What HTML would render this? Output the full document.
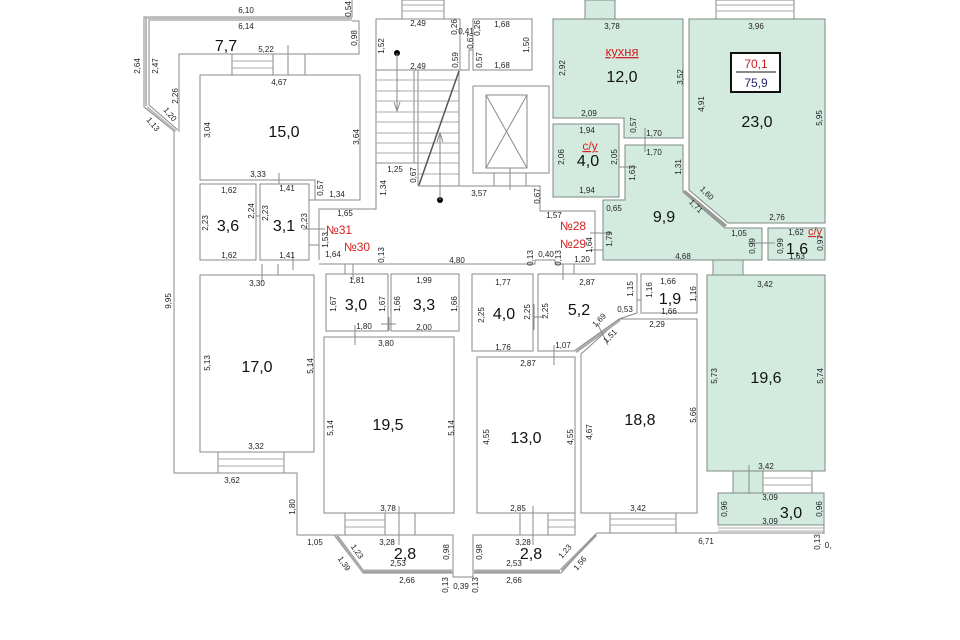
<!DOCTYPE html>
<html><head><meta charset="utf-8"><style>
html,body{margin:0;padding:0;background:#fff;}
svg{display:block;font-family:"Liberation Sans",sans-serif;}
.l{stroke:#8a8a8a;stroke-width:1;fill:none;}
.g{fill:#d3ebdf;stroke:#7d8a84;stroke-width:1;}
.w{fill:#fff;stroke:#8a8a8a;stroke-width:1;}
.t{font-size:8px;fill:#222;text-anchor:middle;font-family:"Liberation Sans Narrow","Liberation Sans",sans-serif;}
.a{font-size:16px;fill:#111;text-anchor:middle;font-family:"Liberation Sans Narrow","Liberation Sans",sans-serif;}
.r{font-size:12px;fill:#d42020;text-anchor:middle;}
.s{stroke:#aaa;stroke-width:1;}
</style></head><body>
<svg width="960" height="640" viewBox="0 0 960 640" xmlns="http://www.w3.org/2000/svg">
<polyline class="l" points="352,0 352,17 144,17 144,107 174,131 174,473 297,473 297,535 334,535"/>
<polyline class="l" points="352,20 149,20 149,105 178,130"/>
<line x1="145" y1="18" x2="352" y2="18" stroke="#bbb" stroke-width="2"/>
<line x1="146" y1="18" x2="146" y2="106" stroke="#bbb" stroke-width="2"/>
<line x1="147" y1="107" x2="176" y2="131" stroke="#bbb" stroke-width="2"/>
<polyline class="l" points="352,21 359,21 359,54 179,54 179,132"/>
<rect class="l" x="232" y="54" width="73" height="21"/>
<line class="s" x1="232" y1="61" x2="273" y2="61"/><line class="s" x1="232" y1="68" x2="273" y2="68"/>
<line class="l" x1="273" y1="54" x2="273" y2="75"/><line class="l" x1="288" y1="45" x2="288" y2="85"/>
<polygon class="w" points="200,75 360,75 360,200 315,200 315,180 200,180"/>
<line class="l" x1="279" y1="173" x2="279" y2="195"/>
<rect class="w" x="200" y="184" width="56" height="76"/>
<rect class="w" x="260" y="184" width="49" height="76"/>
<line class="l" x1="256" y1="216" x2="260" y2="216"/>
<line class="l" x1="293" y1="252" x2="293" y2="270"/>
<line class="l" x1="309" y1="200" x2="319" y2="200"/><line class="l" x1="309" y1="245" x2="319" y2="245"/>
<line class="l" x1="303" y1="229" x2="325" y2="229"/>
<polyline class="l" points="319,260 319,209 376,209 376,19 460,19 460,70 469,70 469,50 473,50"/>
<polyline class="l" points="418,186 540,186 540,211 595,211 595,264 555,264 555,260 535,260 535,264 319,264"/>
<rect class="w" x="473" y="19" width="59" height="51"/>
<rect class="w" x="473" y="86" width="76" height="87"/>
<rect class="l" x="486" y="95" width="41" height="73"/>
<line class="l" x1="486" y1="95" x2="527" y2="168"/><line class="l" x1="527" y1="95" x2="486" y2="168"/>
<line class="l" x1="510" y1="168" x2="510" y2="190"/><line class="l" x1="494" y1="173" x2="494" y2="186"/><line class="l" x1="526" y1="173" x2="526" y2="186"/>
<line class="l" x1="376" y1="70" x2="460" y2="70"/>
<line class="l" x1="376" y1="163" x2="418" y2="163"/>
<line class="l" x1="414" y1="70" x2="414" y2="163"/><line class="l" x1="418" y1="70" x2="418" y2="186"/>
<line class="l" x1="459" y1="70" x2="459" y2="186"/>
<g class="s">
<line x1="376" y1="80" x2="459" y2="80"/><line x1="376" y1="91" x2="459" y2="91"/><line x1="376" y1="101" x2="459" y2="101"/>
<line x1="376" y1="112" x2="459" y2="112"/><line x1="376" y1="122" x2="459" y2="122"/><line x1="376" y1="133" x2="459" y2="133"/>
<line x1="376" y1="143" x2="459" y2="143"/><line x1="376" y1="153" x2="459" y2="153"/><line x1="418" y1="163" x2="459" y2="163"/><line x1="418" y1="174" x2="459" y2="174"/>
</g>
<line x1="419" y1="185" x2="459" y2="71" stroke="#555" stroke-width="1.5"/>
<circle cx="397" cy="53" r="3" fill="#000"/><circle cx="440" cy="200" r="3" fill="#000"/>
<line class="l" x1="397" y1="53" x2="397" y2="111"/><polyline class="l" points="394,102 397,111 400,102"/>
<line class="l" x1="440" y1="200" x2="440" y2="133"/><polyline class="l" points="437,142 440,133 443,142"/>
<rect class="l" x="402" y="0" width="42" height="19"/><line class="s" x1="402" y1="5" x2="444" y2="5"/><line class="s" x1="402" y1="11" x2="444" y2="11"/>
<rect class="l" x="716" y="0" width="78" height="19"/><line class="s" x1="716" y1="5" x2="794" y2="5"/><line class="s" x1="716" y1="11" x2="794" y2="11"/>
<rect class="g" x="585" y="0" width="30" height="19"/>
<polygon class="g" points="553,19 683,19 683,138 624,138 624,118 553,118"/>
<polygon class="g" points="689,19 825,19 825,223 728,223 689,190"/>
<rect class="g" x="553" y="124" width="66" height="73"/>
<polygon class="g" points="625,145 683,145 683,192 725,228 762,228 762,260 603,260 603,200 625,200"/>
<rect class="g" x="768" y="228" width="57" height="32"/>
<line x1="684" y1="191" x2="726" y2="226" stroke="#999" stroke-width="3"/>
<line class="l" x1="619" y1="167" x2="637" y2="167"/><line class="l" x1="645" y1="128" x2="645" y2="152"/>
<line class="l" x1="590" y1="233" x2="612" y2="233"/><line class="l" x1="590" y1="250" x2="603" y2="250"/>
<line class="l" x1="748" y1="243" x2="775" y2="243"/>
<rect class="g" x="713" y="260" width="30" height="15"/>
<rect class="g" x="707" y="275" width="118" height="196"/>
<rect class="g" x="733" y="471" width="30" height="22"/>
<rect class="l" x="763" y="471" width="49" height="22"/><line class="s" x1="763" y1="478" x2="812" y2="478"/><line class="s" x1="763" y1="485" x2="812" y2="485"/>
<line class="l" x1="749" y1="465" x2="749" y2="500"/>
<rect class="g" x="718" y="493" width="106" height="32"/>
<line class="s" x1="718" y1="528" x2="824" y2="528"/><line class="s" x1="718" y1="531" x2="824" y2="531"/>
<line class="l" x1="824" y1="525" x2="824" y2="534"/>
<rect x="731" y="53" width="49" height="39" fill="#fff" stroke="#111" stroke-width="2"/>
<line x1="736" y1="72" x2="776" y2="72" stroke="#111" stroke-width="1"/>
<text x="756" y="68" style="font-size:12px;fill:#c42020;text-anchor:middle">70,1</text>
<text x="756" y="87" style="font-size:12px;fill:#22286a;text-anchor:middle">75,9</text>
<rect class="w" x="200" y="275" width="114" height="177"/>
<rect class="l" x="218" y="452" width="66" height="21"/><line class="s" x1="218" y1="459" x2="284" y2="459"/><line class="s" x1="218" y1="466" x2="284" y2="466"/>
<line class="l" x1="278" y1="264" x2="278" y2="275"/><line class="l" x1="262" y1="264" x2="262" y2="282"/>
<rect class="w" x="326" y="274" width="62" height="57"/>
<rect class="w" x="391" y="274" width="68" height="57"/>
<line class="l" x1="345" y1="264" x2="345" y2="274"/><line class="l" x1="353" y1="264" x2="353" y2="280"/>
<line class="l" x1="381" y1="324" x2="396" y2="324"/><line class="l" x1="389" y1="317" x2="389" y2="331"/>
<rect class="w" x="324" y="337" width="130" height="176"/>
<line class="l" x1="355" y1="325" x2="355" y2="345"/>
<rect class="w" x="472" y="274" width="61" height="77"/>
<polygon class="w" points="538,274 637,274 637,313 619,319 574,351 538,351"/>
<line class="l" x1="533" y1="317" x2="544" y2="317"/><line class="l" x1="534" y1="304" x2="534" y2="330"/>
<line class="l" x1="574" y1="264" x2="574" y2="274"/><line class="l" x1="563" y1="264" x2="563" y2="280"/>
<rect class="w" x="641" y="274" width="56" height="39"/>
<line class="l" x1="637" y1="300" x2="641" y2="300"/>
<polygon class="w" points="620,319 697,319 697,513 581,513 581,354"/>
<line x1="576" y1="352" x2="620" y2="320" stroke="#aaa" stroke-width="2.5"/>
<line class="l" x1="597" y1="323" x2="608" y2="345"/>
<rect class="w" x="477" y="357" width="98" height="156"/>
<line class="l" x1="554" y1="345" x2="554" y2="365"/>
<rect class="l" x="345" y="513" width="40" height="22"/><line class="s" x1="345" y1="520" x2="385" y2="520"/><line class="s" x1="345" y1="527" x2="385" y2="527"/>
<line class="l" x1="415" y1="513" x2="415" y2="535"/><line class="l" x1="399" y1="506" x2="399" y2="545"/>
<rect class="l" x="548" y="513" width="27" height="22"/><line class="s" x1="548" y1="520" x2="575" y2="520"/><line class="s" x1="548" y1="527" x2="575" y2="527"/>
<line class="l" x1="520" y1="513" x2="520" y2="535"/><line class="l" x1="533" y1="506" x2="533" y2="545"/>
<rect class="l" x="610" y="513" width="66" height="20"/><line class="s" x1="610" y1="519" x2="676" y2="519"/><line class="s" x1="610" y1="525" x2="676" y2="525"/>
<polyline class="l" points="334,535 453,535 453,577 473,577 473,535 560,535"/>
<line class="l" x1="334" y1="535" x2="363" y2="573"/>
<polyline class="l" points="363,573 453,573"/>
<line x1="337" y1="536" x2="362" y2="570" stroke="#aaa" stroke-width="3"/>
<line x1="362" y1="571" x2="452" y2="571" stroke="#aaa" stroke-width="3"/>
<line x1="474" y1="571" x2="560" y2="571" stroke="#aaa" stroke-width="3"/>
<line x1="561" y1="570" x2="596" y2="535" stroke="#aaa" stroke-width="3"/>
<polyline class="l" points="474,573 561,573 597,533 824,533"/>
<g class="t">
<text x="246" y="13">6,10</text><text x="246" y="29">6,14</text><text x="266" y="52">5,22</text><text x="279" y="85">4,67</text>
<text x="258" y="177">3,33</text><text x="287" y="191">1,41</text><text x="337" y="197">1,34</text>
<text x="229" y="193">1,62</text><text x="229" y="258">1,62</text><text x="287" y="258">1,41</text>
<text x="345" y="216">1,65</text><text x="333" y="257">1,64</text><text x="457" y="263">4,80</text><text x="546" y="257">0,40</text>
<text x="418" y="26">2,49</text><text x="418" y="69">2,49</text><text x="502" y="27">1,68</text><text x="502" y="68">1,68</text><text x="466" y="34">0,41</text>
<text x="395" y="172">1,25</text><text x="479" y="196">3,57</text>
<text x="612" y="29">3,78</text><text x="756" y="29">3,96</text><text x="589" y="116">2,09</text><text x="654" y="136">1,70</text><text x="654" y="155">1,70</text>
<text x="587" y="133">1,94</text><text x="587" y="193">1,94</text><text x="614" y="211">0,65</text><text x="777" y="220">2,76</text>
<text x="554" y="218">1,57</text><text x="739" y="236">1,05</text><text x="796" y="235">1,62</text><text x="797" y="259">1,63</text>
<text x="683" y="259">4,68</text><text x="582" y="262">1,20</text>
<text x="257" y="286">3,30</text><text x="357" y="283">1,81</text><text x="424" y="283">1,99</text><text x="364" y="329">1,80</text><text x="424" y="330">2,00</text>
<text x="386" y="346">3,80</text><text x="503" y="285">1,77</text><text x="503" y="350">1,76</text><text x="587" y="285">2,87</text>
<text x="668" y="284">1,66</text><text x="669" y="314">1,66</text><text x="625" y="312">0,53</text><text x="657" y="327">2,29</text>
<text x="563" y="348">1,07</text><text x="528" y="366">2,87</text><text x="765" y="287">3,42</text>
<text x="256" y="449">3,32</text><text x="232" y="483">3,62</text><text x="388" y="511">3,78</text><text x="518" y="511">2,85</text><text x="638" y="511">3,42</text>
<text x="766" y="469">3,42</text><text x="770" y="500">3,09</text><text x="770" y="524">3,09</text><text x="706" y="544">6,71</text><text x="828" y="548">0,</text>
<text x="315" y="545">1,05</text><text x="387" y="545">3,28</text><text x="398" y="566">2,53</text><text x="407" y="583">2,66</text><text x="461" y="589">0,39</text>
<text x="523" y="545">3,28</text><text x="514" y="566">2,53</text><text x="514" y="583">2,66</text>
</g>
<g class="t">
<text transform="translate(351,9) rotate(-90)">0,54</text><text transform="translate(357,38) rotate(-90)">0,98</text>
<text transform="translate(140,66) rotate(-90)">2,64</text><text transform="translate(158,66) rotate(-90)">2,47</text>
<text transform="translate(178,96) rotate(-90)">2,26</text><text transform="translate(168,116) rotate(50)">1,20</text><text transform="translate(151,126) rotate(50)">1,13</text>
<text transform="translate(210,130) rotate(-90)">3,04</text><text transform="translate(359,137) rotate(-90)">3,64</text><text transform="translate(323,188) rotate(-90)">0,57</text>
<text transform="translate(254,211) rotate(-90)">2,24</text><text transform="translate(268,213) rotate(-90)">2,23</text><text transform="translate(208,223) rotate(-90)">2,23</text>
<text transform="translate(307,221) rotate(-90)">2,23</text><text transform="translate(328,240) rotate(-90)">1,53</text><text transform="translate(384,255) rotate(-90)">0,13</text>
<text transform="translate(533,258) rotate(-90)">0,13</text><text transform="translate(561,258) rotate(-90)">0,13</text>
<text transform="translate(457,27) rotate(-90)">0,26</text><text transform="translate(473,41) rotate(-90)">0,67</text><text transform="translate(480,28) rotate(-90)">0,26</text>
<text transform="translate(529,45) rotate(-90)">1,50</text><text transform="translate(384,46) rotate(-90)">1,52</text><text transform="translate(458,60) rotate(-90)">0,59</text>
<text transform="translate(482,60) rotate(-90)">0,57</text><text transform="translate(416,175) rotate(-90)">0,67</text><text transform="translate(386,188) rotate(-90)">1,34</text>
<text transform="translate(540,196) rotate(-90)">0,67</text>
<text transform="translate(565,68) rotate(-90)">2,92</text><text transform="translate(683,77) rotate(-90)">3,52</text><text transform="translate(704,104) rotate(-90)">4,91</text>
<text transform="translate(822,118) rotate(-90)">5,95</text><text transform="translate(636,125) rotate(-90)">0,57</text><text transform="translate(564,157) rotate(-90)">2,06</text>
<text transform="translate(617,157) rotate(-90)">2,05</text><text transform="translate(635,173) rotate(-90)">1,63</text><text transform="translate(681,167) rotate(-90)">1,31</text>
<text transform="translate(705,195) rotate(45)">1,60</text><text transform="translate(694,208) rotate(45)">1,71</text>
<text transform="translate(612,239) rotate(-90)">1,79</text><text transform="translate(592,245) rotate(-90)">1,64</text>
<text transform="translate(755,246) rotate(-90)">0,99</text><text transform="translate(783,246) rotate(-90)">0,99</text><text transform="translate(823,243) rotate(-90)">0,97</text>
<text transform="translate(171,301) rotate(-90)">9,95</text><text transform="translate(336,304) rotate(-90)">1,67</text><text transform="translate(385,304) rotate(-90)">1,67</text>
<text transform="translate(400,304) rotate(-90)">1,66</text><text transform="translate(457,304) rotate(-90)">1,66</text>
<text transform="translate(484,315) rotate(-90)">2,25</text><text transform="translate(530,312) rotate(-90)">2,25</text><text transform="translate(548,311) rotate(-90)">2,25</text>
<text transform="translate(633,289) rotate(-90)">1,15</text><text transform="translate(652,290) rotate(-90)">1,16</text><text transform="translate(696,294) rotate(-90)">1,16</text>
<text transform="translate(601,322) rotate(-45)">1,69</text><text transform="translate(612,338) rotate(-45)">1,51</text>
<text transform="translate(717,376) rotate(-90)">5,73</text><text transform="translate(823,376) rotate(-90)">5,74</text>
<text transform="translate(210,363) rotate(-90)">5,13</text><text transform="translate(313,366) rotate(-90)">5,14</text><text transform="translate(333,428) rotate(-90)">5,14</text>
<text transform="translate(454,428) rotate(-90)">5,14</text><text transform="translate(489,437) rotate(-90)">4,55</text><text transform="translate(573,437) rotate(-90)">4,55</text>
<text transform="translate(592,432) rotate(-90)">4,67</text><text transform="translate(696,415) rotate(-90)">5,66</text><text transform="translate(295,507) rotate(-90)">1,80</text>
<text transform="translate(727,509) rotate(-90)">0,96</text><text transform="translate(822,509) rotate(-90)">0,96</text><text transform="translate(820,542) rotate(-90)">0,13</text>
<text transform="translate(355,553) rotate(55)">1,23</text><text transform="translate(342,565) rotate(55)">1,39</text><text transform="translate(449,552) rotate(-90)">0,98</text>
<text transform="translate(448,585) rotate(-90)">0,13</text><text transform="translate(478,585) rotate(-90)">0,13</text><text transform="translate(482,552) rotate(-90)">0,98</text>
<text transform="translate(567,553) rotate(-50)">1,23</text><text transform="translate(582,565) rotate(-50)">1,56</text>
</g>
<g class="a">
<text x="226" y="51">7,7</text><text x="284" y="137">15,0</text><text x="228" y="231">3,6</text><text x="284" y="231">3,1</text>
<text x="622" y="82">12,0</text><text x="757" y="127">23,0</text><text x="588" y="166">4,0</text><text x="664" y="222">9,9</text><text x="797" y="254">1,6</text>
<text x="356" y="310">3,0</text><text x="424" y="310">3,3</text><text x="504" y="319">4,0</text><text x="579" y="315">5,2</text><text x="670" y="304">1,9</text>
<text x="766" y="383">19,6</text><text x="257" y="372">17,0</text><text x="388" y="430">19,5</text><text x="526" y="443">13,0</text><text x="640" y="425">18,8</text>
<text x="791" y="518">3,0</text><text x="405" y="559">2,8</text><text x="531" y="559">2,8</text>
</g>
<g class="r">
<text x="339" y="234">№31</text><text x="357" y="251">№30</text><text x="573" y="230">№28</text><text x="573" y="248">№29</text>
<text x="622" y="56" style="font-size:13px;text-decoration:underline">кухня</text>
<text x="590" y="150" style="font-size:12px;text-decoration:underline">с/у</text>
<text x="815" y="235" style="font-size:11px;text-decoration:underline">с/у</text>
</g>
</svg>
</body></html>
